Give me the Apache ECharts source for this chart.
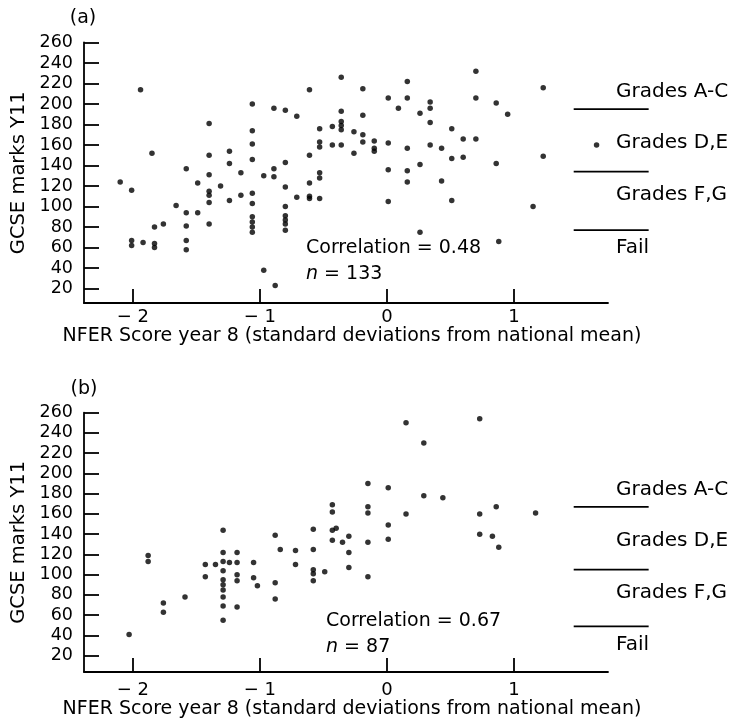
<!DOCTYPE html>
<html>
<head>
<meta charset="utf-8">
<script src="https://cdn.jsdelivr.net/npm/echarts@6/dist/echarts.min.js"></script>
<style>
html,body{margin:0;padding:0;background:#fff;}
#c{width:731px;height:725px;}
</style>
</head>
<body>
<div id="c"></div>
<script>
// ---------- data ----------
const yTicks = [20,40,60,80,100,120,140,160,180,200,220,240,260];
const xTicks = [-2,-1,0,1];
const gradeLabels = ['Grades A-C','Grades D,E','Grades F,G','Fail'];
const gradeBoundsA = [195, 134, 77];
const gradeBoundsB = [167, 105, 49];
const gradeLineX = [1.47, 2.06];

// Panel (a): NFER score (x) and GCSE marks (y)
const nferA = [-2.10,-2.01,-1.94,-2.01,-2.01,-1.92,-1.85,-1.83,-1.83,-1.83,-1.76,-1.66,-1.58,-1.58,-1.58,-1.58,-1.58,-1.49,-1.49,
 -1.40,-1.40,-1.40,-1.40,-1.40,-1.40,-1.40,-1.31,-1.24,-1.24,-1.24,-1.15,-1.15,
 -1.06,-1.06,-1.06,-1.06,-1.06,-1.06,-1.06,-1.06,-1.06,-1.06,-0.97,-0.97,-0.89,-0.89,-0.89,-0.88,
 -0.80,-0.80,-0.80,-0.80,-0.80,-0.80,-0.80,-0.80,-0.71,-0.71,-0.61,-0.61,-0.61,-0.61,-0.61,
 -0.53,-0.53,-0.53,-0.53,-0.53,-0.53,-0.43,-0.43,-0.36,-0.36,-0.36,-0.36,-0.36,-0.36,-0.26,-0.26,
 -0.19,-0.19,-0.19,-0.19,-0.10,-0.10,-0.10,0.01,0.01,0.01,0.01,0.09,0.16,0.16,0.16,0.16,0.16,
 0.26,0.26,0.26,0.34,0.34,0.34,0.34,0.43,0.43,0.51,0.51,0.51,0.60,0.60,0.70,0.70,0.70,
 0.86,0.86,0.88,0.95,1.15,1.23,1.23,1.65];
const gcseA = [124,116,214,67,62,65,152,80,64,60,83,101,137,94,81,67,58,123,94,
 181,150,131,115,111,104,83,120,154,142,106,133,111,
 200,174,161,146,113,103,90,85,80,75,130,38,196,137,129,23,
 194,143,119,100,91,87,83,77,188,109,214,150,123,110,108,
 176,163,158,133,128,108,178,160,226,193,183,179,175,160,173,152,
 215,189,170,163,164,157,154,206,162,136,105,196,222,206,157,135,124,
 191,141,75,202,196,182,160,157,125,176,147,106,166,148,232,206,166,
 201,142,66,190,100,216,149,160];

// Panel (b)
const nferB = [-2.03,-1.88,-1.88,-1.76,-1.76,-1.59,-1.43,-1.43,-1.35,
 -1.29,-1.29,-1.29,-1.29,-1.29,-1.29,-1.29,-1.29,-1.29,-1.29,-1.24,
 -1.18,-1.18,-1.18,-1.18,-1.18,-1.05,-1.05,-1.02,-0.88,-0.88,-0.88,-0.84,-0.72,-0.72,
 -0.58,-0.58,-0.58,-0.58,-0.58,-0.49,-0.43,-0.43,-0.43,-0.40,-0.43,-0.35,-0.30,-0.30,-0.30,
 -0.15,-0.15,-0.15,-0.15,-0.15,0.01,0.01,0.01,0.15,0.15,0.29,0.29,0.44,
 0.73,0.73,0.73,0.86,0.83,0.88,1.17];
const gcseB = [41,119,113,72,63,78,110,98,110,
 144,122,113,104,95,90,85,78,69,55,112,
 122,112,100,94,68,112,97,89,139,92,76,125,124,110,
 145,125,105,101,94,103,169,162,144,146,134,132,138,122,107,
 190,167,161,132,98,186,149,135,250,160,230,178,176,
 254,160,140,167,138,127,161];

const corrA = 0.48, nA = 133;
const corrB = 0.67, nB = 87;

const xTitle = 'NFER Score year 8 (standard deviations from national mean)';
const yTitle = 'GCSE marks Y11';

// ---------- chart ----------
const FONT = 'DejaVu Sans';
const INK = '#000';
const chart = echarts.init(document.getElementById('c'), null, {renderer: 'canvas', width: 731, height: 725});

function pairs(xs, ys) { return xs.map((x, i) => [x, ys[i]]); }

function xAxisCfg(gridIndex, labelMargin, nameGap) {
  return {
    type: 'value', gridIndex, min: -2.385, max: 1.74,
    splitLine: {show: false},
    axisLine: {show: true, onZero: false, lineStyle: {color: INK, width: 1.8}},
    axisTick: {show: true, inside: true, length: 14, customValues: xTicks, lineStyle: {color: INK, width: 1.8}},
    axisLabel: {show: true, customValues: xTicks, margin: labelMargin, fontFamily: FONT, fontSize: 18, color: INK,
      formatter: v => v < 0 ? '\u2212 ' + Math.abs(v) : String(v)},
    name: xTitle, nameLocation: 'middle', nameGap: nameGap,
    nameTextStyle: {fontFamily: FONT, fontSize: 19, color: INK, padding: [0, 0, 0, 12]}
  };
}
function yAxisCfg(gridIndex, min) {
  return {
    type: 'value', gridIndex, min: min, max: 260,
    splitLine: {show: false},
    axisLine: {show: true, onZero: false, lineStyle: {color: INK, width: 1.8}},
    axisTick: {show: true, inside: true, length: 15, customValues: yTicks, lineStyle: {color: INK, width: 1.8}},
    axisLabel: {show: true, customValues: yTicks, margin: 11, fontFamily: FONT, fontSize: 17.5, color: INK},
    name: yTitle, nameLocation: 'middle', nameGap: 55, nameRotate: 90,
    nameTextStyle: {fontFamily: FONT, fontSize: 19.5, color: INK}
  };
}

chart.setOption({
  animation: false,
  backgroundColor: '#fff',
  grid: [
    {left: 84, top: 42.5, width: 524, height: 260.5},
    {left: 84, top: 412.7, width: 524, height: 259.2}
  ],
  xAxis: [xAxisCfg(0, 5, 22), xAxisCfg(1, 9, 26)],
  yAxis: [yAxisCfg(0, 6), yAxisCfg(1, 4)],
  series: [
    {type: 'scatter', xAxisIndex: 0, yAxisIndex: 0, data: pairs(nferA, gcseA), symbolSize: 5.5,
     itemStyle: {color: INK}, clip: false},
    {type: 'scatter', xAxisIndex: 1, yAxisIndex: 1, data: pairs(nferB, gcseB), symbolSize: 5.5,
     itemStyle: {color: INK}, clip: false}
  ]
});

function panelGraphics(gridIndex, bounds, corr, n, corrPos, panelLabel, labelPos) {
  const g = [];
  const xs = chart.convertToPixel({gridIndex}, [gradeLineX[0], bounds[0]])[0];
  const xe = chart.convertToPixel({gridIndex}, [gradeLineX[1], bounds[0]])[0];
  const ys = bounds.map(b => chart.convertToPixel({gridIndex}, [gradeLineX[0], b])[1]);
  ys.forEach(y => g.push({type: 'line', shape: {x1: xs, y1: y, x2: xe, y2: y},
    style: {stroke: INK, lineWidth: 1.8}}));
  const labelY = [ys[0] - 17, ys[0] + 34, ys[1] + 23.5, ys[2] + 18];
  gradeLabels.forEach((t, i) => g.push({type: 'text', x: 616, y: labelY[i],
    style: {text: t, fontFamily: FONT, fontSize: 20, fill: INK, verticalAlign: 'middle', align: 'left'}}));
  g.push({type: 'text', x: corrPos[0], y: corrPos[1],
    style: {text: 'Correlation = ' + corr.toFixed(2), fontFamily: FONT, fontSize: 19, fill: INK, verticalAlign: 'middle'}});
  g.push({type: 'text', x: corrPos[0], y: corrPos[1] + 26,
    style: {text: '{i|n} = ' + n, fontFamily: FONT, fontSize: 19, fill: INK, verticalAlign: 'middle',
      rich: {i: {fontStyle: 'italic', fontFamily: FONT, fontSize: 19, fill: INK}}}});
  g.push({type: 'text', x: labelPos[0], y: labelPos[1],
    style: {text: panelLabel, fontFamily: FONT, fontSize: 19, fill: INK, verticalAlign: 'middle', align: 'center'}});
  return g;
}

chart.setOption({
  graphic: [].concat(
    panelGraphics(0, gradeBoundsA, corrA, nA, [306, 248], '(a)', [83, 18]),
    panelGraphics(1, gradeBoundsB, corrB, nB, [326, 621], '(b)', [84, 389])
  )
});
</script>
</body>
</html>
